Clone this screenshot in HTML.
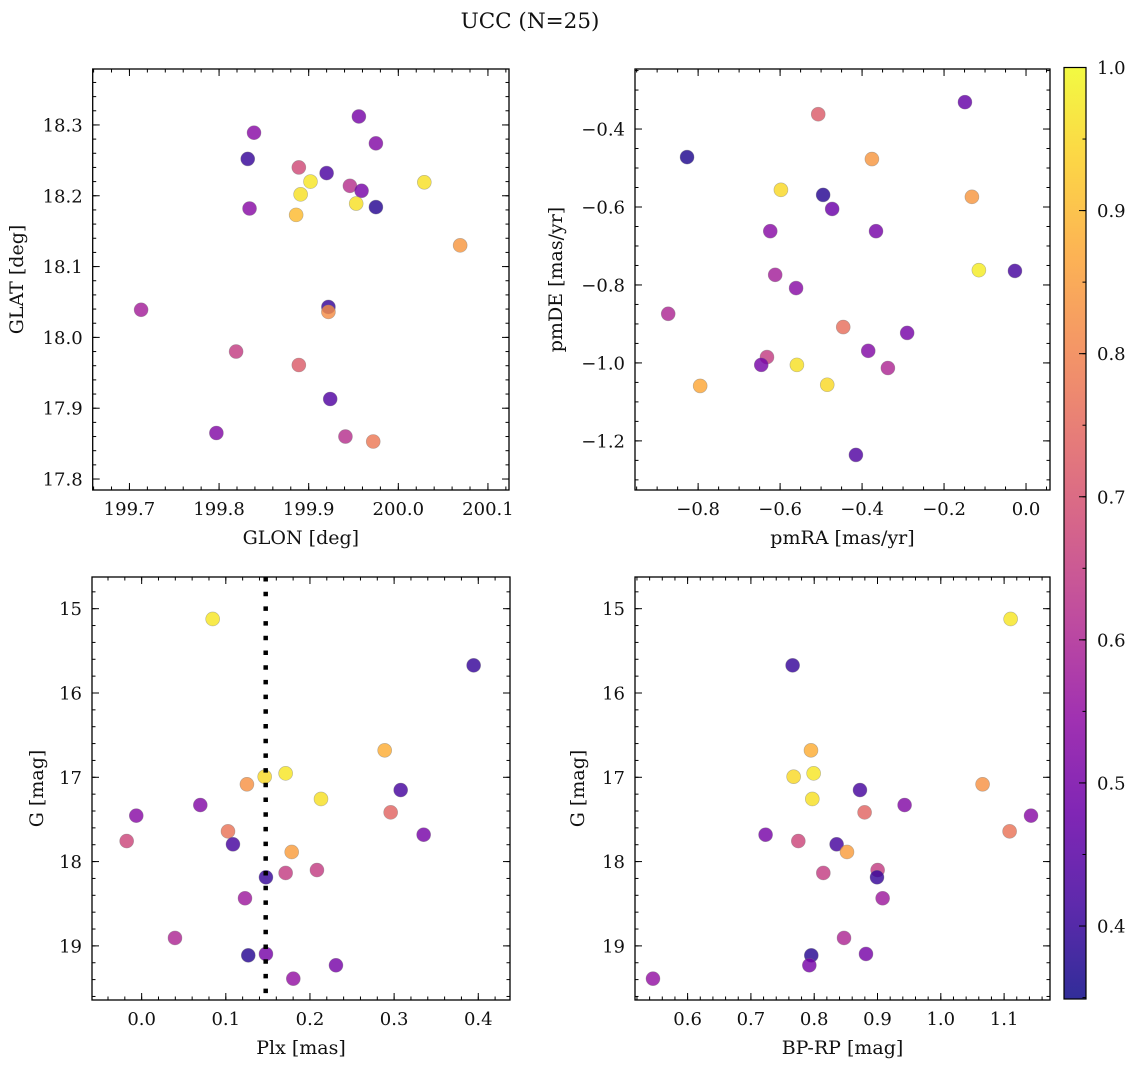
<!DOCTYPE html>
<html><head><meta charset="utf-8"><style>
html,body{margin:0;padding:0;background:#fff}
svg{display:block;font-family:"DejaVu Serif","Liberation Serif",serif}
</style></head><body>
<svg id="fig" width="1136" height="1067" viewBox="0 0 1136 1067" xmlns="http://www.w3.org/2000/svg">
<text x="530" y="28" font-size="21.5" text-anchor="middle" fill="#111">UCC (N=25)</text>
</svg>
<script>
// ---- data ----
const glon = [199.956,199.839,199.975,199.832,199.889,199.920,199.902,200.029,199.946,199.959,199.891,199.953,199.975,199.834,199.886,200.069,199.713,199.922,199.922,199.819,199.889,199.924,199.797,199.941,199.972];
const glat = [18.312,18.289,18.274,18.252,18.240,18.232,18.220,18.219,18.214,18.207,18.202,18.189,18.184,18.182,18.173,18.130,18.039,18.043,18.036,17.980,17.961,17.913,17.865,17.860,17.853];
const probSky = [0.5,0.53,0.52,0.4,0.68,0.43,0.97,0.96,0.62,0.5,0.96,0.96,0.38,0.53,0.9,0.84,0.58,0.4,0.82,0.65,0.72,0.44,0.52,0.62,0.78];
const pmra = [-0.149,-0.507,-0.827,-0.376,-0.598,-0.495,-0.473,-0.132,-0.624,-0.366,-0.115,-0.027,-0.612,-0.561,-0.873,-0.446,-0.290,-0.385,-0.632,-0.646,-0.559,-0.337,-0.795,-0.485,-0.415];
const pmde = [-0.331,-0.362,-0.472,-0.477,-0.556,-0.569,-0.605,-0.574,-0.662,-0.662,-0.762,-0.764,-0.774,-0.808,-0.874,-0.908,-0.923,-0.969,-0.985,-1.005,-1.005,-1.013,-1.059,-1.056,-1.236];
const probPm = [0.47,0.72,0.37,0.84,0.95,0.38,0.48,0.84,0.53,0.5,0.98,0.42,0.58,0.53,0.6,0.76,0.5,0.52,0.65,0.5,0.96,0.6,0.87,0.95,0.44];
const plx = [0.0844,0.3945,0.2888,0.1711,0.1462,0.1251,0.3078,0.2131,0.0697,-0.0064,0.2959,0.1026,0.3351,-0.0178,0.1085,0.1783,0.2083,0.1711,0.1477,0.1228,0.0396,0.1267,0.1477,0.2309,0.1802];
const gmag = [15.122,15.672,16.680,16.953,16.993,17.083,17.151,17.257,17.329,17.455,17.416,17.641,17.681,17.756,17.795,17.886,18.100,18.135,18.186,18.435,18.906,19.112,19.096,19.230,19.389];
const bprp = [1.1103,0.7659,0.7949,0.7991,0.7675,1.0660,0.8723,0.7970,0.9428,1.1425,0.8796,1.1087,0.7232,0.7749,0.8354,0.8518,0.9002,0.8144,0.8992,0.9081,0.8471,0.7954,0.8818,0.7923,0.5453];
const probCmd = [0.97,0.4,0.88,0.97,0.95,0.83,0.42,0.96,0.52,0.53,0.74,0.77,0.5,0.67,0.42,0.85,0.65,0.65,0.4,0.57,0.6,0.38,0.5,0.5,0.55];
const plxMedian = 0.1474;
const cbarTicks = [0.4,0.5,0.6,0.7,0.8,0.9,1.0];
const xt1=[199.7,199.8,199.9,200.0,200.1], yt1=[17.8,17.9,18.0,18.1,18.2,18.3];
const xt2=[-0.8,-0.6,-0.4,-0.2,0.0], yt2=[-1.2,-1.0,-0.8,-0.6,-0.4];
const xt3=[0.0,0.1,0.2,0.3,0.4], yt3=[15,16,17,18,19];
const xt4=[0.6,0.7,0.8,0.9,1.0,1.1];

const NS="http://www.w3.org/2000/svg";
const svg=document.getElementById('fig');
function mk(tag,attrs,parent){const e=document.createElementNS(NS,tag);for(const k in attrs)e.setAttribute(k,attrs[k]);(parent||svg).appendChild(e);return e;}
const stops=[[0,[13,8,135]],[0.1,[65,4,157]],[0.2,[106,0,168]],[0.3,[143,13,164]],[0.4,[177,42,144]],[0.5,[204,71,120]],[0.6,[225,100,98]],[0.7,[242,132,75]],[0.8,[252,166,54]],[0.9,[252,206,37]],[1,[240,249,33]]];
function plasma(t){t=Math.max(0,Math.min(1,t));for(let i=1;i<stops.length;i++){if(t<=stops[i][0]){const a=stops[i-1],b=stops[i];const f=(t-a[0])/(b[0]-a[0]);const c=a[1].map((v,j)=>Math.round(v+(b[1][j]-v)*f));return `rgb(${c[0]},${c[1]},${c[2]})`;}}return 'rgb(240,249,33)';}
const vmin=0.349,vmax=1.0;
function cmap(p){return plasma((p-vmin)/(vmax-vmin));}
function fmt(v,d){const s=v.toFixed(d);return v<0?'\u2212'+s.slice(1):s;}
const TF=18, LF=19;

function panel(o){
  const g=mk('g',{});
  
  
  const sx=v=>o.L+(v-o.x0)/(o.x1-o.x0)*(o.R-o.L);
  const syy=o.rev? (v=>o.T+(v-o.yTop)/(o.yBot-o.yTop)*(o.B-o.T)) : (v=>o.B-(v-o.y0)/(o.y1-o.y0)*(o.B-o.T));
  for(let i=0;i<o.xs.length;i++){
    const c=mk('circle',{cx:sx(o.xs[i]),cy:syy(o.ys[i]),r:7,fill:cmap(o.cs[i]),'fill-opacity':0.82,stroke:'#777','stroke-opacity':0.5,'stroke-width':0.6},g);
    
    
  }
  if(o.vline!==undefined){const l=mk('line',{x1:sx(o.vline),x2:sx(o.vline),y1:o.T,y2:o.B,stroke:'#000','stroke-width':4.5,'stroke-dasharray':'4.5 10.2'},g);
    
    }
  const tk=(x1,y1,x2,y2)=>mk('line',{x1,y1,x2,y2,stroke:'#000','stroke-width':1},g);
  const xr=[Math.min(o.x0,o.x1),Math.max(o.x0,o.x1)];
  for(let v=Math.ceil(xr[0]/o.xminor-1e-6)*o.xminor;v<=xr[1]+1e-9;v+=o.xminor){const x=sx(v);tk(x,o.B,x,o.B-3.5);tk(x,o.T,x,o.T+3.5);}
  const ya=o.rev?[o.yTop,o.yBot]:[o.y0,o.y1];const yr=[Math.min(...ya),Math.max(...ya)];
  for(let v=Math.ceil(yr[0]/o.yminor-1e-6)*o.yminor;v<=yr[1]+1e-9;v+=o.yminor){const y=syy(v);tk(o.L,y,o.L+3.5,y);tk(o.R,y,o.R-3.5,y);}
  o.xt.forEach(v=>{const x=sx(v);tk(x,o.B,x,o.B-7);tk(x,o.T,x,o.T+7);
    const t=mk('text',{x:x,y:o.B+25,'font-size':TF,'text-anchor':'middle',fill:'#111'},g);t.textContent=fmt(v,o.xd);
    
    });
  o.yt.forEach(v=>{const y=syy(v);tk(o.L,y,o.L+7,y);tk(o.R,y,o.R-7,y);
    const t=mk('text',{x:o.L-10,y:y+6.5,'font-size':TF,'text-anchor':'end',fill:'#111'},g);t.textContent=fmt(v,o.yd);
    
    });
  mk('rect',{x:o.L,y:o.T,width:o.R-o.L,height:o.B-o.T,fill:'none',stroke:'#000','stroke-width':1.3},g);
  const xl=mk('text',{x:(o.L+o.R)/2,y:o.B+54,'font-size':LF,'text-anchor':'middle',fill:'#111'},g);xl.textContent=o.xlabel;
  
  
  const yx=o.ylx;const yy=(o.T+o.B)/2;
  const yl=mk('text',{x:yx,y:yy,'font-size':LF,'text-anchor':'middle',fill:'#111',transform:`rotate(-90 ${yx} ${yy})`},g);yl.textContent=o.ylabel;
  
  
}
panel({name:'sky-position-panel',L:92.7,R:509,T:69,B:490,x0:199.659,x1:200.1235,y0:17.7845,y1:18.379,xs:glon,ys:glat,cs:probSky,xt:xt1,yt:yt1,xd:1,yd:1,xminor:0.02,yminor:0.02,xlabel:'GLON [deg]',ylabel:'GLAT [deg]',ylx:23});
panel({name:'proper-motion-panel',L:635,R:1050,T:69,B:490,x0:-0.954,x1:0.0585,y0:-1.326,y1:-0.246,xs:pmra,ys:pmde,cs:probPm,xt:xt2,yt:yt2,xd:1,yd:1,xminor:0.05,yminor:0.05,xlabel:'pmRA [mas/yr]',ylabel:'pmDE [mas/yr]',ylx:562});
panel({name:'parallax-magnitude-panel',L:92,R:510,T:577,B:1000,x0:-0.059,x1:0.4377,rev:true,yTop:14.624,yBot:19.642,xs:plx,ys:gmag,cs:probCmd,xt:xt3,yt:yt3,xd:1,yd:0,xminor:0.02,yminor:0.2,xlabel:'Plx [mas]',ylabel:'G [mag]',ylx:43,vline:plxMedian});
panel({name:'color-magnitude-panel',L:635,R:1050,T:577,B:1000,x0:0.5169,x1:1.1725,rev:true,yTop:14.624,yBot:19.642,xs:bprp,ys:gmag,cs:probCmd,xt:xt4,yt:yt3,xd:1,yd:0,xminor:0.02,yminor:0.2,xlabel:'BP-RP [mag]',ylabel:'G [mag]',ylx:584});

// colorbar
const cb=mk('g',{});


const defs=mk('defs',{},cb);const lg=mk('linearGradient',{id:'pl',x1:0,y1:1,x2:0,y2:0},defs);
for(let i=0;i<=20;i++){const t=i/20;const p=vmin+t*(vmax-vmin);mk('stop',{offset:t,'stop-color':cmap(p),'stop-opacity':0.85},lg);}
const cT=67.5,cB=999,cL=1064,cR=1086;
const cy=p=>cB-(p-vmin)/(vmax-vmin)*(cB-cT);
mk('rect',{x:cL,y:cT,width:cR-cL,height:cB-cT,fill:'url(#pl)',stroke:'#000','stroke-width':1.2},cb);
for(let v=0.35;v<=1.0001;v+=0.05){const y=cy(v);mk('line',{x1:cR,x2:cR-3.5,y1:y,y2:y,stroke:'#000'},cb);}
cbarTicks.forEach(v=>{const y=cy(v);mk('line',{x1:cR,x2:cR-7,y1:y,y2:y,stroke:'#000'},cb);
  const t=mk('text',{x:cR+11,y:y+6.5,'font-size':TF,fill:'#111'},cb);t.textContent=v.toFixed(1);
  
  });
</script>
</body></html>
